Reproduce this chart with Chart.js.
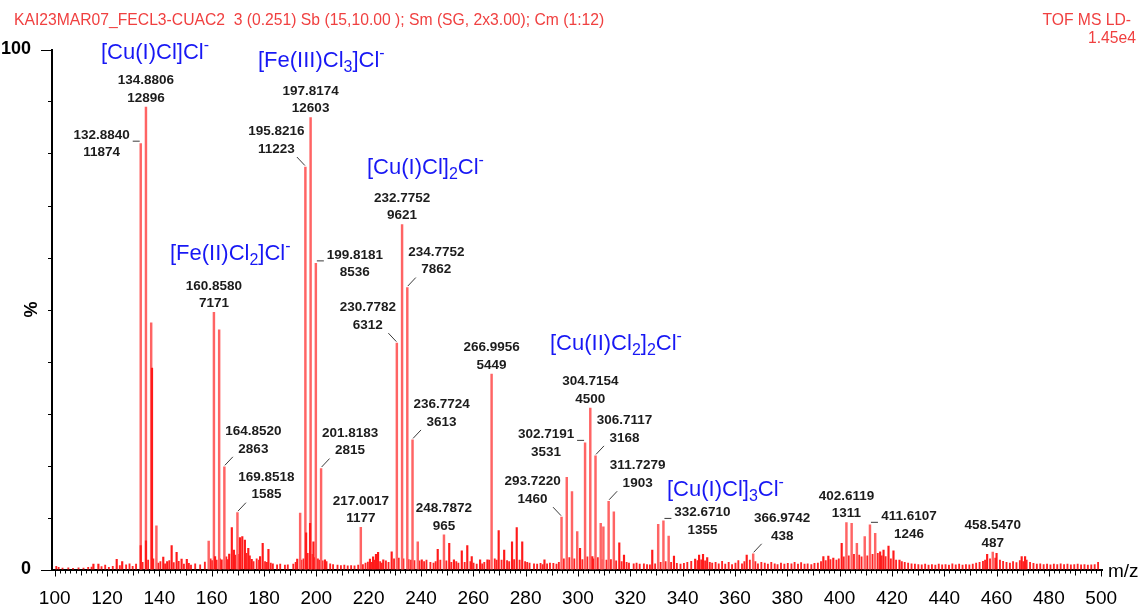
<!DOCTYPE html>
<html>
<head>
<meta charset="utf-8">
<title>TOF MS LD- spectrum</title>
<script src="https://cdn.jsdelivr.net/npm/chart.js@4.4.1/dist/chart.umd.min.js"></script>
<style>
  html, body { margin: 0; padding: 0; background: #ffffff; }
  canvas { display: block; }
</style>
</head>
<body>
<canvas id="spectrum" width="1143" height="607"></canvas>
<script>
// ---- spectrum data (m/z, intensity in counts; full scale = 1.45e4) ----
const fullScale = 14500;

// annotated peaks
const labelledMz  = [132.8840, 134.8806, 160.8580, 164.8520, 169.8518, 195.8216, 197.8174, 199.8181, 201.8183, 217.0017,
                     230.7782, 232.7752, 234.7752, 236.7724, 248.7872, 266.9956, 293.7220, 302.7191, 304.7154, 306.7117,
                     311.7279, 332.6710, 366.9742, 402.6119, 411.6107, 458.5470];
const labelledInt = [11874, 12896, 7171, 2863, 1585, 11223, 12603, 8536, 2815, 1177,
                     6312, 9621, 7862, 3613, 965, 5449, 1460, 3531, 4500, 3168,
                     1903, 1355, 438, 1311, 1246, 487];

// other isotope peaks of the clusters
const isotopeMz  = [136.88, 138.88, 158.86, 162.86, 193.82, 238.77, 295.72, 297.72, 299.72, 308.70,
                    309.72, 313.72, 330.67, 334.67, 404.61, 406.61, 409.61, 413.61];
const isotopeInt = [6880, 1220, 790, 6680, 1570, 775, 2570, 2170, 1055, 1290,
                    1190, 1610, 1260, 930, 1290, 730, 915, 1010];

// smaller peaks
const minorMz  = [114.8, 116.7, 123.7, 125.8, 132.88, 134.88, 137.2, 141.5, 143.0, 144.7,
                  146.6, 148.5, 150.5, 161.3, 163.8, 166.7, 167.7, 168.5, 170.8, 171.7,
                  172.7, 174.0, 175.3, 178.5, 179.5, 181.7, 192.7, 196.1, 197.6, 198.9,
                  203.3, 220.5, 221.7, 222.8, 223.6, 225.6, 228.8, 240.3, 246.4, 250.8,
                  252.6, 255.6, 257.7, 259.4, 262.6, 265.4, 269.7, 271.8, 274.8, 276.6,
                  278.7, 287.2, 300.8, 305.5, 315.8, 317.6, 328.4, 336.7, 344.8, 346.3,
                  347.8, 349.4, 364.5, 393.8, 395.7, 397.6, 400.8, 415.5, 416.8, 418.7,
                  420.6, 422.9, 456.4, 460.0, 469.6, 470.9];
const minorInt = [150, 150, 285, 218, 670, 800, 5620, 349, 218, 664,
                  479, 292, 284, 357, 270, 432, 1166, 544, 887, 915,
                  822, 590, 284, 357, 730, 563, 292, 1026, 1288, 775,
                  270, 292, 350, 420, 480, 270, 496, 270, 563, 730,
                  270, 524, 664, 357, 270, 270, 1082, 544, 775, 1166,
                  775, 270, 590, 357, 747, 404, 544, 376, 290, 400,
                  420, 330, 404, 357, 376, 320, 730, 496, 544, 655,
                  524, 265, 420, 450, 357, 357];

// baseline clutter
const noiseMz = [100.6, 101.5, 103.0, 105.2, 107.0, 109.1, 111.0, 112.8, 114.1, 117.9, 119.3, 120.7, 122.2, 124.9, 127.3, 128.6, 129.8, 131.1,
                 133.6, 135.7, 137.7, 139.6, 140.4, 142.2, 143.8, 145.5, 147.4, 149.4, 151.3, 152.1, 153.7, 155.6, 157.4, 159.6, 160.2,
                 161.9, 163.2, 165.6, 166.2, 169.1, 170.3, 173.3, 174.6, 176.0, 177.2, 178.1, 180.4, 181.1, 182.6, 183.4, 185.0, 186.2, 188.0, 189.1, 191.2, 192.1, 194.3, 195.1, 196.7, 198.3, 199.3,
                 200.6, 201.2, 202.4, 203.9, 205.3, 206.4, 208.1, 209.4, 210.7, 212.0, 213.3, 214.6, 216.0, 217.8, 218.8, 219.7, 221.2, 222.2, 224.4, 225.0, 226.6, 227.6, 229.7,
                 231.5, 233.3, 235.3, 236.2, 237.5, 239.4, 241.2, 242.1, 243.6, 244.8, 245.6, 247.4, 249.7, 251.6, 253.5, 254.3, 256.7, 258.9, 260.1,
                 261.3, 263.4, 264.2, 266.1, 268.2, 268.9, 270.8, 272.9, 273.7, 275.6, 277.7, 279.8, 280.6, 281.5, 283.2, 284.4, 285.7, 286.5, 288.2, 289.3, 290.6, 291.8, 292.7, 294.6, 296.7, 298.6,
                 301.7, 303.6, 305.9, 307.6, 309.1, 310.9, 312.6, 314.6, 316.7, 318.6, 319.5, 321.3, 322.4, 323.6, 325.2, 326.4, 327.5, 329.5, 331.6, 333.5, 335.6, 337.8, 339.2,
                 340.5, 341.8, 343.3, 345.7, 347.1, 348.6, 350.4, 351.3, 352.6, 353.8, 355.1, 356.3, 357.6, 358.9, 360.2, 361.3, 362.7, 363.6, 365.7, 367.8, 368.8, 370.1, 371.4, 372.6, 373.9, 375.2, 376.3, 377.6, 378.9,
                 380.2, 381.6, 382.8, 384.1, 385.3, 386.6, 387.8, 389.2, 390.4, 391.7, 392.9, 394.7, 396.5, 398.8, 399.7, 401.6, 403.5, 405.5, 407.5, 408.4, 410.6, 412.6, 414.6, 416.1, 417.6, 419.6, 421.6, 423.8, 424.9, 426.2, 427.5, 428.8,
                 430.1, 431.4, 432.7, 434.0, 435.3, 436.6, 437.9, 439.2, 440.5, 441.8, 443.1, 444.4, 445.7, 447.0, 448.3, 449.6, 450.9, 452.2, 453.5, 454.8, 455.6, 457.5, 459.5, 461.3, 462.5, 463.8, 465.1, 466.3, 467.6, 468.9, 470.2, 471.5, 472.8, 474.1, 475.4, 476.7, 478.0, 479.3, 480.6, 481.9, 483.2, 484.5, 485.8, 487.1, 488.4, 489.7, 491.0, 492.3, 493.6, 494.9, 496.2, 497.5, 498.8];
const noiseInt = [90, 60, 40, 50, 35, 45, 40, 60, 70, 80, 120, 60, 90, 110, 130, 160, 90, 150,
                  200, 260, 300, 180, 220, 160, 250, 190, 230, 150, 170, 120, 160, 130, 210, 300, 250,
                  260, 300, 350, 280, 400, 420, 450, 380, 220, 300, 260, 220, 200, 180, 160, 130, 150, 120, 130, 150, 200, 260, 300, 450, 420, 330,
                  300, 260, 240, 220, 160, 140, 120, 110, 120, 100, 110, 100, 120, 140, 180, 210, 200, 260, 220, 180, 240, 200, 300,
                  320, 300, 280, 260, 250, 240, 220, 260, 200, 180, 220, 260, 240, 200, 220, 180, 200, 220, 180,
                  150, 160, 200, 260, 300, 260, 260, 250, 220, 280, 260, 220, 200, 180, 160, 150, 170, 140, 160, 180, 170, 150, 200, 300, 330, 300,
                  280, 350, 300, 330, 280, 260, 280, 240, 220, 200, 180, 160, 180, 150, 160, 140, 130, 160, 200, 220, 200, 170, 150,
                  170, 200, 230, 250, 270, 240, 200, 180, 200, 160, 230, 150, 200, 140, 180, 250, 160, 220, 260, 220, 160, 200, 180, 150, 200, 160, 140, 180, 150,
                  170, 160, 200, 150, 190, 150, 160, 140, 170, 180, 220, 250, 280, 260, 300, 350, 380, 420, 400, 350, 380, 420, 450, 380, 360, 300, 260, 220, 200, 180, 160, 150,
                  140, 130, 150, 120, 140, 120, 150, 130, 140, 120, 160, 130, 150, 120, 140, 130, 150, 180, 200, 230, 260, 300, 320, 260, 230, 200, 180, 220, 190, 250, 220, 260, 200, 170, 150, 160, 140, 150, 130, 150, 140, 160, 140, 150, 130, 140, 150, 130, 140, 120, 130, 140, 200];

// axis ticks
const xMin = 98.97, xMax = 500.3;
const xStep = 2, xLabelEvery = 20;
const yStep = fullScale / 10;

// placement of each annotation relative to its peak (same order as labelledMz)
const labelPlacement = ['w', 'top', 'top', 'ne', 'ne', 'nw', 'top', 'e', 'ne', 'top',
                        'nw', 'top', 'ne', 'ne', 'top', 'top', 'nw', 'w', 'top', 'ne',
                        'ne', 'e', 'ne', 'top', 'e', 'top'];
const labelMzText = ['132.8840', '134.8806', '160.8580', '164.8520', '169.8518', '195.8216', '197.8174', '199.8181', '201.8183', '217.0017',
                     '230.7782', '232.7752', '234.7752', '236.7724', '248.7872', '266.9956', '293.7220', '302.7191', '304.7154', '306.7117',
                     '311.7279', '332.6710', '366.9742', '402.6119', '411.6107', '458.5470'];

// ion assignments (pixel position of text start and baseline)
const ionLabels = [
  { x: 101, y: 58.5,  parts: [['[Cu(I)Cl]Cl', ''], ['-', 'sup']] },
  { x: 258, y: 67,    parts: [['[Fe(III)Cl', ''], ['3', 'sub'], [']Cl', ''], ['-', 'sup']] },
  { x: 367, y: 173.5, parts: [['[Cu(I)Cl]', ''], ['2', 'sub'], ['Cl', ''], ['-', 'sup']] },
  { x: 170, y: 260,   parts: [['[Fe(II)Cl', ''], ['2', 'sub'], [']Cl', ''], ['-', 'sup']] },
  { x: 550, y: 350,   parts: [['[Cu(II)Cl', ''], ['2', 'sub'], [']', ''], ['2', 'sub'], ['Cl', ''], ['-', 'sup']] },
  { x: 667, y: 495.5, parts: [['[Cu(I)Cl]', ''], ['3', 'sub'], ['Cl', ''], ['-', 'sup']] }
];

const headerText = 'KAI23MAR07_FECL3-CUAC2  3 (0.251) Sb (15,10.00 ); Sm (SG, 2x3.00); Cm (1:12)';
const modeText = 'TOF MS LD-';
const scaleText = '1.45e4';

// ---- helpers ----
const FONT = "'Liberation Sans', Arial, Helvetica, sans-serif";
const toPoints = (xs, ys) => xs.map((x, i) => ({ x: x, y: ys[i] }));

const placements = {
  top: { dx: 0,   dy: -26.5, lead: null },
  ne:  { dx: 29,  dy: -35.5, lead: [8.5, -10, 0.5, -1.5] },
  nw:  { dx: -29, dy: -35.5, lead: [-8.5, -10, -0.5, -1.5] },
  e:   { dx: 39,  dy: -8.5,  lead: [1, -2.5, 8, -2.5] },
  w:   { dx: -39, dy: -8.5,  lead: [-8, -2.5, -1, -2.5] }
};

// tick marks, texts and peak annotations
const decorations = {
  id: 'decorations',
  afterDatasetsDraw(chart) {
    const ctx = chart.ctx;
    const xs = chart.scales.x, ys = chart.scales.y;
    const area = chart.chartArea;
    ctx.save();

    // x tick marks below the axis line
    ctx.strokeStyle = '#000';
    ctx.lineWidth = 1;
    ctx.beginPath();
    xs.ticks.forEach(t => {
      const v = Math.round(t.value);
      const len = v % 20 === 0 ? 6 : (v % 10 === 0 ? 5 : 3);
      const px = Math.round(xs.getPixelForValue(t.value)) + 0.5;
      ctx.moveTo(px, area.bottom + 1);
      ctx.lineTo(px, area.bottom + 1 + len);
    });
    ctx.stroke();

    // y tick marks left of the axis line
    ctx.beginPath();
    ys.ticks.forEach(t => {
      const major = t.value === 0 || t.value === fullScale;
      const len = major ? 10 : 3;
      const py = Math.round(ys.getPixelForValue(t.value)) + 0.5;
      ctx.moveTo(area.left - 1, py);
      ctx.lineTo(area.left - 1 - len, py);
    });
    ctx.stroke();

    // axis caption
    ctx.fillStyle = '#000';
    ctx.font = '19px ' + FONT;
    ctx.textAlign = 'left';
    ctx.textBaseline = 'alphabetic';
    ctx.fillText('m/z', 1108, 577);

    // header line
    ctx.fillStyle = '#f04040';
    ctx.font = '15.7px ' + FONT;
    ctx.fillText(headerText, 14, 25);
    ctx.textAlign = 'right';
    ctx.fillText(modeText, 1131, 25);
    ctx.fillText(scaleText, 1136, 43);

    // peak annotations
    ctx.font = 'bold 13.5px ' + FONT;
    ctx.textAlign = 'center';
    ctx.textBaseline = 'middle';
    labelledMz.forEach((mz, i) => {
      const px = xs.getPixelForValue(mz);
      const py = ys.getPixelForValue(labelledInt[i]);
      const p = placements[labelPlacement[i]];
      ctx.fillStyle = '#1c1c1c';
      ctx.fillText(labelMzText[i], px + p.dx, py + p.dy);
      ctx.fillText(String(labelledInt[i]), px + p.dx, py + p.dy + 17.5);
      if (p.lead) {
        ctx.strokeStyle = '#3a3a3a';
        ctx.lineWidth = 1;
        ctx.beginPath();
        ctx.moveTo(px + p.lead[0], py + p.lead[1]);
        ctx.lineTo(px + p.lead[2], py + p.lead[3]);
        ctx.stroke();
      }
    });

    // ion assignments with sub/superscripts
    ctx.fillStyle = '#1818f4';
    ctx.textAlign = 'left';
    ctx.textBaseline = 'alphabetic';
    ionLabels.forEach(lab => {
      let x = lab.x;
      lab.parts.forEach(([txt, kind]) => {
        let dy = 0;
        if (kind === 'sub') { ctx.font = '16px ' + FONT; dy = 5; }
        else if (kind === 'sup') { ctx.font = '16px ' + FONT; dy = -9; }
        else { ctx.font = '22px ' + FONT; }
        ctx.fillText(txt, x, lab.y + dy);
        x += ctx.measureText(txt).width;
      });
    });
    ctx.restore();
  }
};

new Chart(document.getElementById('spectrum'), {
  type: 'bar',
  data: {
    datasets: [
      { data: toPoints(noiseMz, noiseInt),       backgroundColor: '#ff2424', barThickness: 1.2, stack: 'spectrum', order: 4 },
      { data: toPoints(labelledMz, labelledInt), backgroundColor: '#ff6464', barThickness: 1.8, stack: 'spectrum', order: 3 },
      { data: toPoints(isotopeMz, isotopeInt),   backgroundColor: '#ff6464', barThickness: 1.8, stack: 'spectrum', order: 2 },
      { data: toPoints(minorMz, minorInt),       backgroundColor: '#ff1a1a', barThickness: 1.5, stack: 'spectrum', order: 1 }
    ]
  },
  options: {
    responsive: false,
    animation: false,
    devicePixelRatio: 1,
    events: [],
    layout: { padding: { left: 0, top: 49.5, right: 41, bottom: 0 } },
    plugins: { legend: { display: false }, tooltip: { enabled: false } },
    scales: {
      x: {
        type: 'linear',
        min: xMin,
        max: xMax,
        offset: false,
        grid: { display: false },
        border: { display: true, color: '#000', width: 2 },
        ticks: {
          stepSize: xStep,
          includeBounds: false,
          autoSkip: false,
          maxRotation: 0,
          padding: 10,
          color: '#000',
          font: { family: FONT, size: 19 },
          callback: v => (Math.round(v) % xLabelEvery === 0 ? String(Math.round(v)) : '')
        },
        afterFit: s => { s.height = 37.5; }
      },
      y: {
        type: 'linear',
        min: 0,
        max: fullScale,
        stacked: false,
        grid: { display: false },
        border: { display: true, color: '#000', width: 2 },
        title: { display: true, text: '%', color: '#000', font: { family: FONT, size: 18, weight: 'bold' }, padding: { top: 21, bottom: 0 } },
        ticks: {
          stepSize: yStep,
          autoSkip: false,
          padding: 13,
          color: '#000',
          font: { family: FONT, size: 18, weight: 'bold' },
          callback: v => (v === fullScale ? '100' : (v === 0 ? '0' : ''))
        },
        afterFit: s => { s.width = 52; }
      }
    }
  },
  plugins: [decorations]
});
</script>
</body>
</html>
